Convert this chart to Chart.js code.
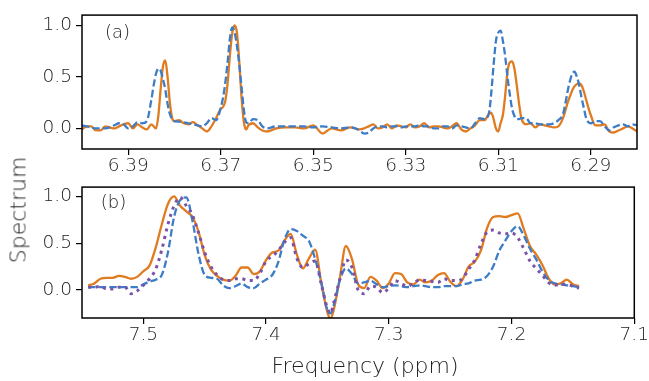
<!DOCTYPE html>
<html><head><meta charset="utf-8">
<script src="https://cdn.jsdelivr.net/npm/chart.js@4/dist/chart.umd.min.js"></script>
<style>
html,body{margin:0;padding:0;background:#fff;}
#wrap{position:relative;width:649px;height:381px;overflow:hidden;background:#fff;}
#c1{position:absolute;left:0;top:0;}
#c2{position:absolute;left:0;top:172px;}
.lab{position:absolute;font-family:"DejaVu Sans";font-weight:300;font-size:22px;color:#222;white-space:nowrap;line-height:normal;}
#ylab{left:18px;top:210px;transform:translate(-50%,-50%) rotate(-90deg);}
#xlab{left:365px;top:365px;transform:translate(-50%,-50%);}
</style></head>
<body><div id="wrap">
<canvas id="c1" width="649" height="172"></canvas>
<canvas id="c2" width="649" height="209"></canvas>
<div id="ylab" class="lab">Spectrum</div>
<div id="xlab" class="lab">Frequency (ppm)</div>
</div>
<script>
// ---------- panel (a) ----------
const topPpm = [
 6.400,6.399,6.398,6.397,6.396,6.395,6.394,6.393,6.392,6.391,
 6.390,6.389,6.388,6.387,6.386,6.385,6.3845,6.384,6.3835,6.383,
 6.3825,6.382,6.3815,6.381,6.3805,6.380,6.379,6.378,6.377,6.376,
 6.375,6.374,6.373,6.372,6.371,6.370,6.3695,6.369,6.3685,6.368,
 6.3675,6.367,6.3665,6.366,6.3655,6.365,6.3645,6.364,6.363,6.362,
 6.361,6.360,6.358,6.356,6.354,6.352,6.350,6.348,6.346,6.344,
 6.342,6.340,6.339,6.338,6.337,6.336,6.335,6.334,6.333,6.332,
 6.331,6.330,6.329,6.328,6.327,6.326,6.325,6.324,6.323,6.322,
 6.321,6.320,6.319,6.318,6.317,6.316,6.315,6.314,6.313,6.312,
 6.3115,6.311,6.3105,6.310,6.3095,6.309,6.3085,6.308,6.3075,6.307,
 6.3065,6.306,6.3055,6.305,6.304,6.303,6.302,6.301,6.300,6.299,
 6.298,6.297,6.296,6.2955,6.295,6.2945,6.294,6.2935,6.293,6.2925,
 6.292,6.2915,6.291,6.2905,6.290,6.289,6.288,6.287,6.286,6.285,
 6.284,6.283,6.282,6.281,6.280
];
const topOrange = [
 -0.01,0.02,0.02,-0.02,-0.02,0.02,0.01,0.00,0.02,0.04,
 0.05,0.00,0.04,0.01,-0.01,0.04,0.02,0.00,0.12,0.38,
 0.60,0.66,0.50,0.25,0.10,0.07,0.08,0.05,0.04,0.06,
 0.03,0.00,-0.03,0.02,0.10,0.19,0.21,0.27,0.45,0.72,
 0.93,1.00,0.93,0.65,0.30,0.06,-0.01,0.03,0.05,0.01,
 -0.02,-0.03,0.00,0.01,0.01,0.00,0.03,-0.05,0.00,-0.02,
 0.01,-0.01,0.00,0.02,0.04,0.00,0.01,0.04,0.00,0.03,
 0.02,0.01,0.04,0.01,0.02,0.05,0.01,0.02,0.02,0.01,
 0.00,0.02,0.05,-0.01,-0.03,0.00,0.03,0.08,0.08,0.14,
 0.15,0.09,0.00,-0.03,0.05,0.13,0.32,0.55,0.64,0.65,
 0.58,0.42,0.24,0.10,0.04,0.05,0.01,0.04,0.03,0.02,
 0.01,0.02,0.10,0.17,0.25,0.31,0.37,0.41,0.43,0.44,
 0.42,0.36,0.28,0.20,0.13,0.03,0.03,0.04,-0.03,-0.04,
 -0.02,0.00,0.02,0.00,-0.03
];
const topBlue = [
 0.03,0.02,0.01,0.00,0.00,0.00,0.01,0.03,0.05,0.04,
 0.00,0.02,0.06,0.05,0.07,0.28,0.42,0.53,0.58,0.56,
 0.48,0.38,0.24,0.14,0.09,0.07,0.065,0.06,0.05,0.04,
 0.03,0.02,0.05,0.10,0.08,0.20,0.30,0.45,0.65,0.88,
 0.98,0.93,0.80,0.62,0.40,0.18,0.06,0.05,0.09,0.08,
 0.02,0.00,0.02,0.02,0.02,0.02,0.01,0.02,0.01,0.00,
 0.01,-0.02,-0.05,-0.04,0.00,0.02,0.02,0.01,0.02,0.02,
 0.01,0.02,0.02,0.02,0.03,0.02,0.02,0.00,0.00,0.02,
 0.02,0.00,0.03,0.02,0.01,0.00,0.05,0.10,0.09,0.15,
 0.35,0.62,0.85,0.93,0.95,0.85,0.70,0.50,0.33,0.19,
 0.12,0.09,0.09,0.10,0.10,0.05,0.05,0.04,0.04,0.04,
 0.05,0.08,0.14,0.24,0.36,0.46,0.53,0.55,0.50,0.42,
 0.30,0.20,0.10,0.06,0.05,0.07,0.07,0.02,-0.02,0.01,
 0.03,0.04,0.02,0.04,0.03
];
const topTicksX = [6.39, 6.37, 6.35, 6.33, 6.31, 6.29];

// ---------- panel (b) ----------
const botPpm = [
 7.545,7.540,7.535,7.530,7.525,7.520,7.515,7.510,7.505,7.500,
 7.495,7.490,7.485,7.480,7.475,7.470,7.465,7.460,7.455,7.450,
 7.445,7.440,7.435,7.430,7.425,7.420,7.415,7.410,7.405,7.400,
 7.395,7.390,7.385,7.380,7.375,7.370,7.365,7.360,7.355,7.350,
 7.3475,7.345,7.340,7.335,7.330,7.325,7.320,7.315,7.310,7.305,7.300,
 7.295,7.290,7.285,7.280,7.275,7.270,7.265,7.260,7.255,7.250,
 7.245,7.240,7.235,7.230,7.225,7.220,7.215,7.210,7.205,7.200,
 7.195,7.190,7.185,7.180,7.175,7.170,7.165,7.160,7.155,7.150,
 7.145
];
const botOrange = [
 0.05,0.07,0.12,0.13,0.13,0.15,0.14,0.12,0.14,0.20,
 0.26,0.45,0.70,0.92,1.00,0.90,0.84,0.78,0.62,0.37,
 0.22,0.15,0.11,0.10,0.15,0.24,0.24,0.17,0.20,0.32,
 0.40,0.42,0.53,0.60,0.38,0.23,0.34,0.43,0.07,-0.24,
 -0.31,-0.22,0.12,0.47,0.33,0.06,0.02,0.14,0.10,0.02,0.07,
 0.18,0.17,0.08,0.06,0.11,0.08,0.10,0.16,0.18,0.09,
 0.04,0.11,0.25,0.30,0.42,0.66,0.78,0.79,0.78,0.80,
 0.82,0.65,0.47,0.38,0.27,0.13,0.06,0.07,0.11,0.06,
 0.04
];
const botBlue = [
 0.03,0.03,0.03,0.03,0.03,0.03,0.03,0.03,0.03,0.06,
 0.09,0.11,0.16,0.40,0.78,0.96,0.99,0.74,0.38,0.16,
 0.13,0.12,0.05,0.02,0.04,0.07,0.03,0.02,0.07,0.11,
 0.16,0.30,0.54,0.65,0.63,0.58,0.52,0.33,0.08,-0.22,
 -0.25,-0.17,0.10,0.23,0.17,0.07,0.08,0.10,0.06,0.03,0.04,
 0.05,0.04,0.03,0.04,0.05,0.04,0.03,0.03,0.04,0.04,
 0.04,0.06,0.07,0.10,0.11,0.15,0.25,0.42,0.53,0.63,
 0.68,0.58,0.44,0.33,0.20,0.11,0.07,0.06,0.05,0.04,
 0.03
];
const botPurple = [
 0.03,0.03,0.04,0.01,0.01,0.03,0.03,-0.04,-0.01,0.05,
 0.12,0.22,0.43,0.70,0.90,0.99,0.90,0.80,0.61,0.40,
 0.25,0.16,0.11,0.10,0.12,0.12,0.10,0.10,0.18,0.31,
 0.36,0.42,0.51,0.56,0.34,0.24,0.28,0.31,0.06,-0.20,
 -0.25,-0.14,0.11,0.32,0.24,0.00,-0.04,0.04,0.03,-0.03,0.02,
 0.10,0.07,0.04,0.07,0.11,0.10,0.09,0.08,0.12,0.10,
 0.10,0.12,0.22,0.32,0.49,0.62,0.64,0.61,0.60,0.61,
 0.56,0.44,0.31,0.23,0.16,0.08,0.05,0.06,0.06,0.04,
 0.02
];
const botTicksX = [7.5, 7.4, 7.3, 7.2, 7.1];
const yTicks = [0.0, 0.5, 1.0];

const ORANGE = '#e07b20', BLUE = '#3d7cc6', PURPLE = '#7a52a8';
const FONT = 'DejaVu Sans';
const TXT = '#222';

function pts(xs, ys){ return xs.map((x,i)=>({x:x, y:ys[i]})); }

const framePlugin = {
  id:'frame',
  afterDraw(chart, args, opts){
    const ctx = chart.ctx, a = chart.chartArea;
    ctx.save();
    ctx.strokeStyle = '#000'; ctx.lineWidth = 1.5;
    ctx.strokeRect(a.left, a.top, a.right - a.left, a.bottom - a.top);
    ctx.fillStyle = TXT;
    ctx.font = "300 18px '" + FONT + "'";
    ctx.textAlign = 'left'; ctx.textBaseline = 'alphabetic';
    ctx.fillText(opts.label, a.left + opts.dx, a.top + opts.dy);
    ctx.restore();
  }
};

function lineDs(data, color, kind, order){
  const ds = {data:data, borderColor:color, backgroundColor:color, pointRadius:0,
    borderWidth:2.3, fill:false, cubicInterpolationMode:'monotone', order:order,
    borderCapStyle:'butt', borderJoinStyle:'round'};
  if (kind === 'dash') ds.borderDash = [7.4, 3.2];
  if (kind === 'dot') { ds.borderWidth = 3; ds.borderDash = [3, 4.6]; }
  return ds;
}

function makeChart(id, datasets, o){
  return new Chart(document.getElementById(id), {
    type:'line',
    data:{datasets:datasets},
    plugins:[framePlugin],
    options:{
      responsive:false, animation:false, devicePixelRatio:1,
      layout:{padding:{left:0, right:12, top:o.padTop, bottom:0}},
      plugins:{legend:{display:false}, tooltip:{enabled:false}, frame:{label:o.label, dx:o.dx, dy:o.dy}},
      scales:{
        x:{type:'linear', min:o.xmin, max:o.xmax, reverse:true,
           afterBuildTicks:(s)=>{ s.ticks = o.xticks.map(v=>({value:v})); },
           afterFit:(s)=>{ s.height = o.xh; },
           border:{display:false},
           grid:{display:true, drawOnChartArea:false, drawTicks:true, tickLength:6, color:'#000', lineWidth:1.2},
           ticks:{padding:0, color:TXT, maxRotation:0, autoSkip:false,
                  font:{family:FONT, size:18.5, weight:'300'},
                  callback:(v)=>Number(v).toFixed(o.xdec)}
        },
        y:{type:'linear', min:o.ymin, max:o.ymax,
           afterBuildTicks:(s)=>{ s.ticks = yTicks.map(v=>({value:v})); },
           afterFit:(s)=>{ s.width = 82; },
           border:{display:false},
           grid:{display:true, drawOnChartArea:false, drawTicks:true, tickLength:6, color:'#000', lineWidth:1.2},
           ticks:{padding:4, color:TXT, autoSkip:false,
                  font:{family:FONT, size:18.5, weight:'300'},
                  callback:(v)=>Number(v).toFixed(1)}
        }
      }
    }
  });
}

makeChart('c1', [
  lineDs(pts(topPpm, topOrange), ORANGE, 'solid', 3),
  lineDs(pts(topPpm, topBlue), BLUE, 'dash', 2)
], {padTop:8, xh:23, xmin:6.28, xmax:6.40, ymin:-0.2, ymax:1.1, xticks:topTicksX, xdec:2,
    label:'(a)', dx:23, dy:23});

makeChart('c2', [
  lineDs(pts(botPpm, botOrange), ORANGE, 'solid', 3),
  lineDs(pts(botPpm, botBlue), BLUE, 'dash', 2),
  lineDs(pts(botPpm, botPurple), PURPLE, 'dot', 1)
], {padTop:5, xh:63, xmin:7.1, xmax:7.55, ymin:-0.3, ymax:1.1, xticks:botTicksX, xdec:1,
    label:'(b)', dx:18.7, dy:20.8});
</script>
</body></html>
